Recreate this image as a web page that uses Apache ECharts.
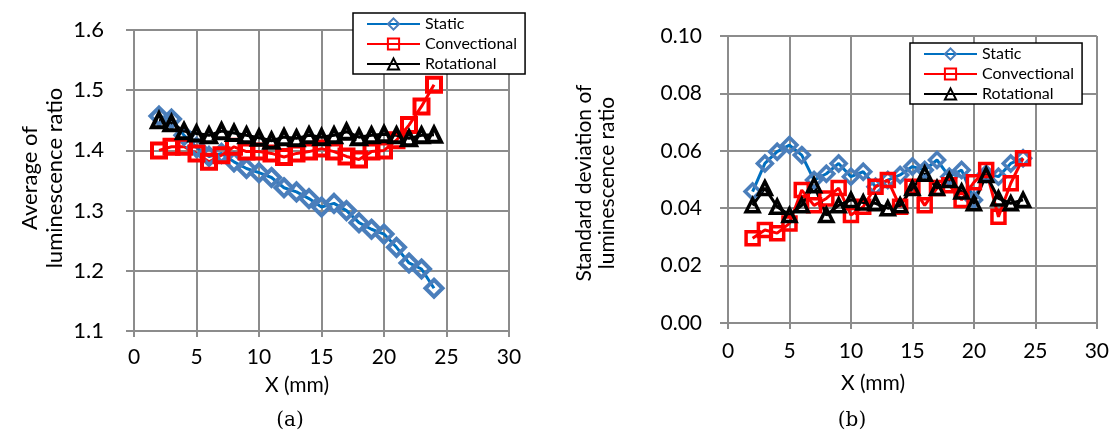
<!DOCTYPE html>
<html><head><meta charset="utf-8">
<script src="https://cdn.jsdelivr.net/npm/echarts@6/dist/echarts.min.js"></script>
<style>html,body{margin:0;padding:0;background:#fff}#c{width:1112px;height:439px}</style>
</head><body><div id="c"></div>
<script>
const xValues = [2,3,4,5,6,7,8,9,10,11,12,13,14,15,16,17,18,19,20,21,22,23,24];
// (a) Average of luminescence ratio
const avgStatic = [1.457,1.452,1.425,1.405,1.39,1.395,1.381,1.37,1.363,1.355,1.338,1.331,1.32,1.306,1.312,1.30,1.28,1.269,1.261,1.239,1.213,1.203,1.171];
const avgConvectional = [1.40,1.406,1.406,1.395,1.381,1.392,1.406,1.398,1.398,1.395,1.389,1.395,1.398,1.403,1.398,1.39,1.385,1.398,1.40,1.417,1.442,1.473,1.509];
const avgRotational = [1.45,1.445,1.432,1.428,1.425,1.432,1.429,1.425,1.421,1.416,1.422,1.42,1.425,1.422,1.425,1.431,1.422,1.425,1.427,1.425,1.42,1.425,1.426];
// (b) Standard deviation of luminescence ratio
const sdStatic = [0.0458,0.0556,0.0597,0.062,0.0585,0.0498,0.052,0.0556,0.051,0.0527,0.0475,0.0498,0.0516,0.0545,0.0533,0.0568,0.051,0.0533,0.0429,0.052,0.051,0.0556,0.0574];
const sdConvectional = [0.0295,0.0324,0.0313,0.0347,0.0463,0.041,0.0434,0.047,0.0376,0.0405,0.0475,0.0498,0.0405,0.0475,0.041,0.047,0.048,0.0429,0.049,0.0533,0.037,0.0487,0.0574];
const sdRotational = [0.041,0.047,0.0405,0.0376,0.041,0.048,0.0376,0.041,0.0429,0.042,0.0417,0.040,0.041,0.047,0.052,0.047,0.0498,0.0458,0.0417,0.0516,0.0434,0.0417,0.0429];
const seriesNames = ['Static','Convectional','Rotational'];
const xTitle = 'X (mm)';
const yTitleA = 'Average of\nluminescence ratio';
const yTitleB = 'Standard deviation of\nluminescence ratio';

const pairs = arr => xValues.map((x,i)=>[x,arr[i]]);
const FONT = 'Lato';
const GRID = '#8c8c8c';

function mk(name, data, idx, big){
  const styles = {
    Static:{line:'#0070C0', mark:'#4A7EBB', sym:'diamond', size: big?17:15},
    Convectional:{line:'#FF0000', mark:'#FF0000', sym:'rect', size: big?14:13},
    Rotational:{line:'#000000', mark:'#000000', sym:'triangle', size: big?14:13}
  }[name];
  return {
    name, type:'line', xAxisIndex:idx, yAxisIndex:idx, data: pairs(data),
    symbol: styles.sym, symbolSize: styles.size, showSymbol:true,
    lineStyle:{color:styles.line, width:3},
    itemStyle:{color:'rgba(255,255,255,0)', borderColor:styles.mark, borderWidth: big?4:3.5},
    emphasis:{disabled:true}, animation:false, z: 3
  };
}

function xAxis(idx, margin){
  return {
    type:'value', gridIndex:idx, min:0, max:30, interval:5,
    axisLine:{show:true, lineStyle:{color:GRID, width:2}},
    axisTick:{show:true, inside:false, length:6, lineStyle:{color:GRID, width:2}},
    axisLabel:{fontFamily:FONT, fontSize:21, color:'#000', margin},
    splitLine:{show:true, lineStyle:{color:GRID, width:2}}
  };
}
function yAxis(idx, min, max, interval, dec, fs, margin){
  return {
    type:'value', gridIndex:idx, min, max, interval,
    axisLine:{show:true, lineStyle:{color:GRID, width:2}},
    axisTick:{show:true, inside:false, length:8, lineStyle:{color:GRID, width:2}},
    axisLabel:{fontFamily:FONT, fontSize:fs, color:'#000', margin, formatter:v=>v.toFixed(dec)},
    splitLine:{show:true, lineStyle:{color:GRID, width:2}}
  };
}
function legend(left, top){
  return {
    show:true, orient:'vertical', left, top, data:seriesNames,
    itemWidth:53, itemHeight:14, itemGap:2,
    padding:[2,8,1,13], backgroundColor:'#fff', borderColor:'#000', borderWidth:1.5,
    textStyle:{fontFamily:FONT, fontSize:16, color:'#000', lineHeight:18},
    selectedMode:false, z:10
  };
}

const chart = echarts.init(document.getElementById('c'), null, {renderer:'canvas'});
chart.setOption({
  backgroundColor:'#fff',
  animation:false,
  grid:[
    {left:134, top:30, width:375, height:301, show:true, borderColor:'#000', borderWidth:2, backgroundColor:'transparent'},
    {left:728, top:36, width:369, height:287}
  ],
  xAxis:[xAxis(0,16), xAxis(1,18)],
  yAxis:[yAxis(0,1.1,1.6,0.1,1,22,30), yAxis(1,0,0.1,0.02,2,21,26)],
  legend:[legend(353,13), legend(910,43)],
  series:[
    mk('Static', avgStatic, 0, true),
    mk('Convectional', avgConvectional, 0, true),
    mk('Rotational', avgRotational, 0, true),
    mk('Static', sdStatic, 1, false),
    mk('Convectional', sdConvectional, 1, false),
    mk('Rotational', sdRotational, 1, false)
  ],
  graphic:[
    {type:'text', x:42, y:178, rotation:Math.PI/2, style:{text:yTitleA, fontFamily:FONT, fontSize:22, lineHeight:25, fill:'#000', textAlign:'center', textVerticalAlign:'middle'}},
    {type:'text', x:596, y:183, rotation:Math.PI/2, style:{text:yTitleB, fontFamily:FONT, fontSize:21, lineHeight:23, fill:'#000', textAlign:'center', textVerticalAlign:'middle'}},
    {type:'text', x:297, y:385, style:{text:xTitle, fontFamily:FONT, fontSize:21, fill:'#000', textAlign:'center', textVerticalAlign:'middle'}},
    {type:'text', x:873, y:383, style:{text:xTitle, fontFamily:FONT, fontSize:21, fill:'#000', textAlign:'center', textVerticalAlign:'middle'}},
    {type:'text', x:290, y:421, style:{text:'(a)', fontFamily:'DejaVu Serif', fontSize:20, fill:'#000', textAlign:'center', textVerticalAlign:'middle'}},
    {type:'text', x:852, y:421, style:{text:'(b)', fontFamily:'DejaVu Serif', fontSize:20, fill:'#000', textAlign:'center', textVerticalAlign:'middle'}}
  ]
});
</script></body></html>
